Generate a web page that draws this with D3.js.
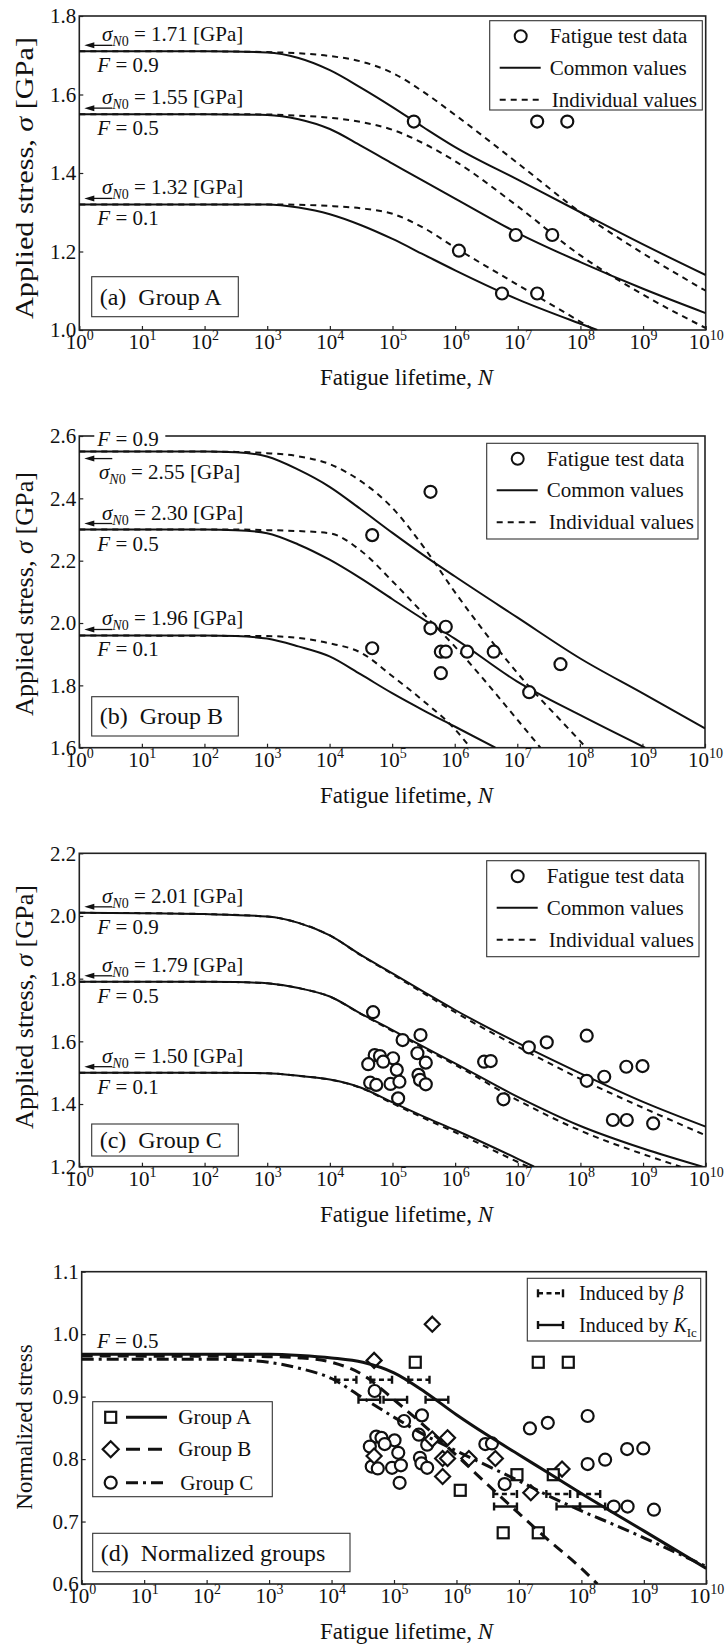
<!DOCTYPE html>
<html>
<head>
<meta charset="utf-8">
<script src="https://cdn.jsdelivr.net/npm/d3@7"></script>
<style>
  body { margin: 0; background: #fff; }
  svg, svg text { font-family: "Liberation Serif", "Times New Roman", Times, serif; }
</style>
</head>
<body>
<svg id="fig" width="728" height="1647" font-family="Liberation Serif, Times New Roman, serif"></svg>
<script>
// ---------------- data ----------------
// x-axis decades (exponents of ten)
const decadeExp = [0, 1, 2, 3, 4, 5, 6, 7, 8, 9, 10];

// y-axis tick values for each panel
const ticksA = [1.0, 1.2, 1.4, 1.6, 1.8];
const ticksB = [1.6, 1.8, 2.0, 2.2, 2.4, 2.6];
const ticksC = [1.2, 1.4, 1.6, 1.8, 2.0, 2.2];
const ticksD = [0.6, 0.7, 0.8, 0.9, 1.0, 1.1];

// failure probabilities and fatigue limits sigma_N0 [GPa]
const probF = [0.9, 0.5, 0.1];
const sigmaN0A = [1.71, 1.55, 1.32];
const sigmaN0B = [2.55, 2.30, 1.96];
const sigmaN0C = [2.01, 1.79, 1.50];

// fatigue test data: lifetime N and applied stress [GPa]
const groupA_N = [2.19e5, 2.04e7, 6.17e7, 1.15e6, 9.3e6, 3.55e7, 5.6e6, 2.04e7];
const groupA_S = [1.531, 1.531, 1.531, 1.202, 1.242, 1.242, 1.093, 1.093];

const groupB_N = [4.8e4, 4.1e5, 4.8e4, 4.1e5, 7.2e5, 6.0e5, 7.2e5, 1.58e6, 4.2e6, 6.0e5, 1.55e7, 4.9e7];
const groupB_S = [2.282, 2.421, 1.919, 1.983, 1.988, 1.908, 1.908, 1.908, 1.908, 1.839, 1.778, 1.868];

const groupC_N = [4.9e4, 1.45e5, 2.8e5, 2.5e5, 3.4e5, 5.2e4, 6.3e4, 1.02e5, 4.1e4, 7.1e4, 1.17e5, 2.6e5,
                  4.4e4, 5.5e4, 9.3e4, 1.29e5, 2.75e5, 3.4e5, 1.23e5, 2.9e6, 3.7e6, 5.9e6, 1.5e7, 2.9e7,
                  1.26e8, 1.26e8, 2.4e8, 5.4e8, 9.8e8, 3.3e8, 5.5e8, 1.45e9];
const groupC_S = [1.693, 1.604, 1.620, 1.562, 1.532, 1.556, 1.553, 1.546, 1.527, 1.535, 1.509, 1.493,
                  1.468, 1.461, 1.464, 1.471, 1.477, 1.463, 1.418, 1.535, 1.537, 1.415, 1.581, 1.597,
                  1.618, 1.474, 1.487, 1.519, 1.521, 1.349, 1.349, 1.338];

// normalized stresses of the same specimens
const normA_S = [0.955, 0.955, 0.955, 0.750, 0.775, 0.775, 0.682, 0.682];
const normB_S = [0.958, 1.016, 0.805, 0.832, 0.834, 0.801, 0.801, 0.801, 0.801, 0.772, 0.746, 0.784];
const normC_S = [0.909, 0.861, 0.870, 0.839, 0.823, 0.836, 0.834, 0.830, 0.820, 0.824, 0.810, 0.802,
                 0.788, 0.785, 0.786, 0.790, 0.793, 0.786, 0.762, 0.824, 0.825, 0.760, 0.849, 0.858,
                 0.869, 0.792, 0.799, 0.816, 0.817, 0.724, 0.724, 0.719];

// predicted S-N curves, [N, stress] for F = 0.9, 0.5, 0.1
const commonA = [
  [[1,1.71],[1e2,1.71],[1e3,1.707],[3.16e3,1.693],[1e4,1.662],[3.16e4,1.617],[1e5,1.568],[3.16e5,1.516],[1e6,1.466],[1e7,1.383],[1e8,1.30],[1e9,1.218],[1e10,1.14]],
  [[1,1.55],[1e2,1.55],[1e3,1.548],[3.16e3,1.537],[1e4,1.512],[3.16e4,1.469],[1e5,1.424],[3.16e5,1.379],[1e6,1.335],[1e7,1.247],[1e8,1.173],[1e9,1.105],[1e10,1.043]],
  [[1,1.32],[1e2,1.32],[1e3,1.32],[3.16e3,1.312],[1e4,1.295],[3.16e4,1.267],[1e5,1.232],[3.16e5,1.192],[1e6,1.152],[1e7,1.078],[1e8,1.016],[1.86e8,1.0]]
];
const individualA = [
  [[1,1.71],[1e2,1.71],[1e3,1.708],[3.16e3,1.705],[1e4,1.698],[3.16e4,1.684],[1e5,1.655],[3.16e5,1.606],[1e6,1.548],[1e7,1.425],[1e8,1.30],[1e9,1.195],[1e10,1.10]],
  [[1,1.55],[1e2,1.55],[1e3,1.549],[3.16e3,1.546],[1e4,1.541],[3.16e4,1.53],[1e5,1.51],[3.16e5,1.475],[1e6,1.43],[1e7,1.315],[1e8,1.19],[1e9,1.09],[1e10,1.005]],
  [[1,1.32],[1e2,1.32],[1e3,1.32],[3.16e3,1.319],[1e4,1.316],[3.16e4,1.31],[1e5,1.296],[3.16e5,1.26],[1e6,1.21],[1e7,1.115],[1e8,1.021],[1.66e8,1.0]]
];
const commonB = [
  [[1,2.55],[1e2,2.55],[3.16e2,2.548],[1e3,2.534],[3.16e3,2.492],[1e4,2.437],[3.16e4,2.365],[1e5,2.29],[3.16e5,2.218],[1e6,2.15],[1e7,2.018],[1e8,1.887],[1e9,1.775],[1e10,1.662]],
  [[1,2.30],[1e2,2.30],[3.16e2,2.298],[1e3,2.288],[3.16e3,2.252],[1e4,2.203],[3.16e4,2.143],[1e5,2.077],[3.16e5,2.012],[1e6,1.95],[1e7,1.812],[1e8,1.705],[1.1e9,1.6]],
  [[1,1.96],[1e2,1.96],[3.16e2,1.958],[1e3,1.95],[3.16e3,1.925],[1e4,1.893],[3.16e4,1.835],[1e5,1.775],[3.16e5,1.72],[1e6,1.668],[4.47e6,1.6]]
];
const individualB = [
  [[1,2.55],[1e2,2.55],[3.16e2,2.549],[1e3,2.545],[3.16e3,2.535],[1e4,2.51],[3.16e4,2.455],[1e5,2.37],[3.16e5,2.245],[1e6,2.10],[1e7,1.84],[1e8,1.622],[1.26e8,1.6]],
  [[1,2.30],[3.16e2,2.30],[1e3,2.298],[3.16e3,2.295],[1e4,2.288],[3.16e4,2.232],[1e5,2.135],[3.16e5,2.03],[1e6,1.925],[1e7,1.69],[2.34e7,1.6]],
  [[1,1.96],[1e3,1.958],[3.16e3,1.952],[1e4,1.935],[3.16e4,1.905],[1e5,1.83],[3.16e5,1.75],[1e6,1.66],[1.78e6,1.6]]
];
const commonC = [
  [[1,2.01],[1e1,2.009],[1e2,2.006],[1e3,1.998],[3.16e3,1.978],[1e4,1.938],[3.16e4,1.875],[1e5,1.817],[3.16e5,1.758],[1e6,1.70],[1e7,1.595],[1e8,1.498],[1e9,1.407],[1e10,1.328]],
  [[1,1.79],[1e2,1.79],[3.16e2,1.789],[1e3,1.785],[3.16e3,1.77],[1e4,1.743],[3.16e4,1.688],[1e5,1.636],[3.16e5,1.582],[1e6,1.53],[1e7,1.423],[1e8,1.33],[1e9,1.258],[8.9e9,1.2]],
  [[1,1.50],[1e2,1.50],[1e3,1.498],[3.16e3,1.49],[1e4,1.478],[3.16e4,1.452],[1e5,1.405],[3.16e5,1.36],[1e6,1.317],[1e7,1.225],[1.82e7,1.2]]
];
const individualC = [
  [[1,2.01],[1e1,2.009],[1e2,2.006],[1e3,1.998],[3.16e3,1.978],[1e4,1.938],[3.16e4,1.874],[1e5,1.814],[3.16e5,1.753],[1e6,1.693],[1e7,1.583],[1e8,1.48],[1e9,1.388],[1e10,1.30]],
  [[1,1.79],[1e2,1.79],[3.16e2,1.789],[1e3,1.785],[3.16e3,1.77],[1e4,1.743],[3.16e4,1.687],[1e5,1.633],[3.16e5,1.578],[1e6,1.525],[1e7,1.412],[1e8,1.315],[1e9,1.24],[3.98e9,1.2]],
  [[1,1.50],[1e2,1.50],[1e3,1.498],[3.16e3,1.49],[1e4,1.478],[3.16e4,1.451],[1e5,1.402],[3.16e5,1.355],[1e6,1.31],[1e7,1.215],[1.45e7,1.2]]
];

// normalized F = 0.5 curves
const normCurveA = [[1,0.968],[1e3,0.968],[3.16e3,0.966],[1e4,0.962],[3.16e4,0.955],[1e5,0.938],[3.16e5,0.907],[1e6,0.871],[3.16e6,0.838],[1e7,0.807],[3.16e7,0.776],[1e8,0.745],[1e9,0.685],[1e10,0.625]];
const normCurveB = [[1,0.965],[1e3,0.964],[3.16e3,0.962],[1e4,0.955],[3.16e4,0.935],[1e5,0.895],[3.16e5,0.852],[1e6,0.806],[3.16e6,0.759],[1e7,0.713],[3.16e7,0.668],[1e8,0.625],[1.8e8,0.6]];
const normCurveC = [[1,0.96],[1e2,0.96],[3.16e2,0.959],[1e3,0.955],[3.16e3,0.945],[1e4,0.929],[3.16e4,0.898],[1e5,0.867],[3.16e5,0.838],[1e6,0.813],[3.16e6,0.789],[1e7,0.765],[3.16e7,0.74],[1e8,0.717],[3.16e8,0.696],[1e9,0.674],[3.16e9,0.651],[1e10,0.628]];

// lifetime scatter bands: [N low, N high, normalized stress]
const betaBars = [[1.15e4,2.5e4,0.927],[4.2e4,9.3e4,0.927],[1.7e5,3.7e5,0.927],[3.9e6,9.3e6,0.744],[2.75e7,6.6e7,0.744],[8.7e7,2.0e8,0.744]];
const kicBars  = [[2.7e4,6.0e4,0.895],[6.8e4,1.62e5,0.895],[3.2e5,7.4e5,0.895],[4.0e6,9.3e6,0.724],[4.0e7,9.5e7,0.724],[9.5e7,2.4e8,0.724]];

// ---------------- drawing ----------------
const INK = "#111";
const SERIF = "Liberation Serif, Times New Roman, serif";
const svg = d3.select("#fig");
svg.append("rect").attr("width", 728).attr("height", 1647).attr("fill", "#fff");

function makePanel(cfg) {
  const g = svg.append("g").attr("font-family", SERIF);
  const x = d3.scaleLog().domain([1, 1e10]).range([cfg.left, cfg.right]);
  const y = d3.scaleLinear().domain([cfg.ticks[0], cfg.ticks[cfg.ticks.length - 1]]).range([cfg.bottom, cfg.top]);

  svg.append("clipPath").attr("id", "clip-" + cfg.id)
    .append("rect").attr("x", cfg.left).attr("y", cfg.top)
    .attr("width", cfg.right - cfg.left).attr("height", cfg.bottom - cfg.top);

  // x axis: decade ticks labelled 10^k
  const xa = g.append("g").attr("transform", `translate(0,${cfg.bottom})`)
    .call(d3.axisBottom(x).tickValues(decadeExp.map(e => Math.pow(10, e)))
      .tickSizeInner(-4).tickSizeOuter(0).tickFormat(""));
  xa.attr("font-family", SERIF);
  xa.select(".domain").remove();
  xa.selectAll(".tick line").attr("stroke", "#222").attr("stroke-width", 1.2);
  xa.selectAll(".tick text").remove();
  xa.selectAll(".tick").each(function(d) {
    const t = d3.select(this).append("text").attr("y", 19).attr("text-anchor", "middle")
      .attr("font-size", 21).attr("fill", INK).attr("font-family", SERIF);
    t.append("tspan").text("10");
    t.append("tspan").attr("font-size", 14).attr("dy", -9).text(Math.round(Math.log10(d)));
  });

  // y axis
  const ya = g.append("g").attr("transform", `translate(${cfg.left},0)`)
    .call(d3.axisLeft(y).tickValues(cfg.ticks).tickSizeInner(-4).tickSizeOuter(0)
      .tickPadding(3).tickFormat(d3.format(".1f")));
  ya.attr("font-family", SERIF);
  ya.select(".domain").remove();
  ya.selectAll(".tick line").attr("stroke", "#222").attr("stroke-width", 1.2);
  ya.selectAll(".tick text").attr("font-size", 21).attr("fill", INK).attr("font-family", SERIF);

  // frame
  g.append("rect").attr("x", cfg.left).attr("y", cfg.top)
    .attr("width", cfg.right - cfg.left).attr("height", cfg.bottom - cfg.top)
    .attr("fill", "none").attr("stroke", "#222").attr("stroke-width", 1.6);

  // axis titles
  const xt = g.append("text").attr("x", 320).attr("y", cfg.bottom + 55)
    .attr("font-size", 23).attr("fill", INK);
  xt.append("tspan").text("Fatigue lifetime, ");
  xt.append("tspan").attr("font-style", "italic").text("N");

  const yt = g.append("text")
    .attr("transform", `translate(${cfg.yTitleX},${cfg.yTitleMid}) rotate(-90)`)
    .attr("text-anchor", "middle").attr("font-size", cfg.yTitleSize).attr("fill", INK);
  if (cfg.yTitleLen) yt.attr("textLength", cfg.yTitleLen).attr("lengthAdjust", "spacingAndGlyphs");
  cfg.yTitle(yt);

  // panel caption box
  const cb = cfg.caption;
  g.append("rect").attr("x", cb.x0).attr("y", cb.y0).attr("width", cb.x1 - cb.x0)
    .attr("height", cb.y1 - cb.y0).attr("fill", "#fff").attr("stroke", "#333").attr("stroke-width", 1.1);
  g.append("text").attr("x", cb.x0 + 8).attr("y", (cb.y0 + cb.y1) / 2 + 8)
    .attr("font-size", 24).attr("fill", INK).attr("xml:space", "preserve").text(cb.text);

  const plot = g.append("g").attr("clip-path", `url(#clip-${cfg.id})`);
  return { g, x, y, plot };
}

const line = (x, y) => d3.line().x(d => x(d[0])).y(d => y(d[1])).curve(d3.curveMonotoneX);

function sigmaLabel(g, xPos, yPos, value) {
  const t = g.append("text").attr("x", xPos).attr("y", yPos).attr("font-size", 21).attr("fill", INK);
  t.append("tspan").attr("font-style", "italic").text("σ");
  t.append("tspan").attr("font-size", 14).attr("font-style", "italic").attr("dy", 5).text("N");
  t.append("tspan").attr("font-size", 14).text("0");
  t.append("tspan").attr("dy", -5).text(` = ${value.toFixed(2)} [GPa]`);
}
function fLabel(g, xPos, yPos, value) {
  const t = g.append("text").attr("x", xPos).attr("y", yPos).attr("font-size", 21).attr("fill", INK);
  t.append("tspan").attr("font-style", "italic").text("F");
  t.append("tspan").text(` = ${value.toFixed(1)}`);
  return t;
}
function leftArrow(g, tipX, endX, yPos) {
  g.append("line").attr("x1", tipX + 6).attr("x2", endX).attr("y1", yPos).attr("y2", yPos)
    .attr("stroke", INK).attr("stroke-width", 1.3);
  g.append("path").attr("d", `M${tipX},${yPos} L${tipX + 10},${yPos - 3} L${tipX + 10},${yPos + 3} Z`)
    .attr("fill", INK);
}

function stressTitle(t) {
  t.append("tspan").text("Applied stress, ");
  t.append("tspan").attr("font-style", "italic").text("σ");
  t.append("tspan").text(" [GPa]");
}

function legendABC(g, box) {
  g.append("rect").attr("x", box.x0).attr("y", box.y0).attr("width", box.x1 - box.x0)
    .attr("height", box.y1 - box.y0).attr("fill", "#fff").attr("stroke", "#333").attr("stroke-width", 1.1);
  const r = [box.y0 + 15.5, box.y0 + 47, box.y0 + 79];
  g.append("circle").attr("cx", box.x0 + 31).attr("cy", r[0]).attr("r", 6)
    .attr("fill", "#fff").attr("stroke", INK).attr("stroke-width", 2);
  g.append("line").attr("x1", box.x0 + 10).attr("x2", box.x0 + 51).attr("y1", r[1]).attr("y2", r[1])
    .attr("stroke", INK).attr("stroke-width", 2);
  g.append("line").attr("x1", box.x0 + 10).attr("x2", box.x0 + 51).attr("y1", r[2]).attr("y2", r[2])
    .attr("stroke", INK).attr("stroke-width", 2).attr("stroke-dasharray", "6,5");
  const labels = ["Fatigue test data", "Common values", "Individual values"];
  labels.forEach((s, i) => g.append("text").attr("x", box.x0 + 60 + (i === 2 ? 2 : 0)).attr("y", r[i] + 7)
    .attr("font-size", 21).attr("fill", INK).text(s));
}

function drawStressPanel(cfg, common, individual, sigmaN0, dataN, dataS) {
  const P = makePanel(cfg);
  const ln = line(P.x, P.y);
  common.forEach(c => P.plot.append("path").attr("d", ln(c)).attr("fill", "none")
    .attr("stroke", INK).attr("stroke-width", 2));
  individual.forEach(c => P.plot.append("path").attr("d", ln(c)).attr("fill", "none")
    .attr("stroke", INK).attr("stroke-width", 2).attr("stroke-dasharray", "6,5"));
  P.plot.selectAll("circle.pt").data(dataN.map((n, i) => [n, dataS[i]])).join("circle")
    .attr("class", "pt").attr("cx", d => P.x(d[0])).attr("cy", d => P.y(d[1])).attr("r", 6)
    .attr("fill", "#fff").attr("stroke", INK).attr("stroke-width", 2.2);

  // fatigue-limit annotations
  sigmaN0.forEach((s, i) => {
    const yl = P.y(s);
    const a = cfg.notes[i];
    leftArrow(P.g, cfg.left + 5, cfg.left + 33, yl + a.arrow);
    sigmaLabel(P.g, a.sx, yl + a.sig, s);
    if (a.fTop) {
      P.g.append("rect").attr("x", cfg.left + 15).attr("y", cfg.top - 10).attr("width", 71).attr("height", 20).attr("fill", "#fff");
      fLabel(P.g, cfg.left + 18, cfg.top + 10, probF[i]);
    } else {
      fLabel(P.g, cfg.left + 18, yl + a.f, probF[i]);
    }
  });
  legendABC(P.g, cfg.legend);
  return P;
}

const stdNotes = [{ arrow: -6, sig: -10, f: 21, sx: 102 }, { arrow: -6, sig: -10, f: 21, sx: 102 }, { arrow: -6, sig: -10, f: 21, sx: 102 }];

drawStressPanel({
  id: "a", left: 79.3, right: 705.7, top: 16, bottom: 330, ticks: ticksA,
  yTitleX: 33, yTitleMid: 178, yTitleSize: 26, yTitleLen: 282, yTitle: stressTitle,
  caption: { x0: 91.7, y0: 276.7, x1: 238.3, y1: 316.7, text: "(a)  Group A" },
  legend: { x0: 489.7, y0: 20.7, x1: 702.3, y1: 110 },
  notes: stdNotes
}, commonA, individualA, sigmaN0A, groupA_N, groupA_S);

drawStressPanel({
  id: "b", left: 79.3, right: 705, top: 436, bottom: 747.7, ticks: ticksB,
  yTitleX: 33, yTitleMid: 594, yTitleSize: 25, yTitleLen: 244, yTitle: stressTitle,
  caption: { x0: 91.7, y0: 696.7, x1: 238.3, y1: 736, text: "(b)  Group B" },
  legend: { x0: 486.7, y0: 443.3, x1: 698, y1: 539 },
  notes: [{ arrow: 7, sig: 27, sx: 99, fTop: true }, stdNotes[1], stdNotes[2]]
}, commonB, individualB, sigmaN0B, groupB_N, groupB_S);

drawStressPanel({
  id: "c", left: 79.3, right: 705.7, top: 853.3, bottom: 1166.7, ticks: ticksC,
  yTitleX: 33, yTitleMid: 1007, yTitleSize: 25, yTitleLen: 244, yTitle: stressTitle,
  caption: { x0: 91.7, y0: 1124, x1: 238.3, y1: 1156, text: "(c)  Group C" },
  legend: { x0: 486.7, y0: 860.7, x1: 699, y1: 956.7 },
  notes: stdNotes
}, commonC, individualC, sigmaN0C, groupC_N, groupC_S);

// ---- panel (d): normalized groups ----
(function () {
  const cfg = {
    id: "d", left: 81.7, right: 706.3, top: 1271.7, bottom: 1584, ticks: ticksD,
    yTitleX: 32, yTitleMid: 1427, yTitleSize: 23, yTitle: t => t.text("Normalized stress"),
    caption: { x0: 92.7, y0: 1533.3, x1: 350, y1: 1571.7, text: "(d)  Normalized groups" }
  };
  const P = makePanel(cfg);
  const ln = line(P.x, P.y);
  const sq = 11, dm = 7.5;

  const markerStyle = s => s.attr("fill", "#fff").attr("stroke", INK).attr("stroke-width", 2.2);
  markerStyle(P.plot.selectAll("circle.c").data(groupC_N.map((n, i) => [n, normC_S[i]])).join("circle")
    .attr("class", "c").attr("cx", d => P.x(d[0])).attr("cy", d => P.y(d[1])).attr("r", 6));
  markerStyle(P.plot.selectAll("path.b").data(groupB_N.map((n, i) => [n, normB_S[i]])).join("path")
    .attr("class", "b").attr("d", d => {
      const cx = P.x(d[0]), cy = P.y(d[1]);
      return `M${cx},${cy - dm} L${cx + dm},${cy} L${cx},${cy + dm} L${cx - dm},${cy} Z`;
    }));
  markerStyle(P.plot.selectAll("rect.a").data(groupA_N.map((n, i) => [n, normA_S[i]])).join("rect")
    .attr("class", "a").attr("x", d => P.x(d[0]) - sq / 2).attr("y", d => P.y(d[1]) - sq / 2)
    .attr("width", sq).attr("height", sq));

  P.plot.append("path").attr("d", ln(normCurveA)).attr("fill", "none").attr("stroke", INK).attr("stroke-width", 3);
  P.plot.append("path").attr("d", ln(normCurveB)).attr("fill", "none").attr("stroke", INK).attr("stroke-width", 3)
    .attr("stroke-dasharray", "11,7");
  P.plot.append("path").attr("d", ln(normCurveC)).attr("fill", "none").attr("stroke", INK).attr("stroke-width", 3)
    .attr("stroke-dasharray", "12,5,3,5");

  function bar(g, x0, x1, yy, dashed) {
    g.append("line").attr("x1", x0).attr("x2", x1).attr("y1", yy).attr("y2", yy)
      .attr("stroke", INK).attr("stroke-width", 2.4).attr("stroke-dasharray", dashed ? "5,3.5" : null);
    [x0, x1].forEach(xx => g.append("line").attr("x1", xx).attr("x2", xx).attr("y1", yy - 4).attr("y2", yy + 4)
      .attr("stroke", INK).attr("stroke-width", 2.4));
  }
  betaBars.forEach(b => bar(P.plot, P.x(b[0]), P.x(b[1]), P.y(b[2]), true));
  kicBars.forEach(b => bar(P.plot, P.x(b[0]), P.x(b[1]), P.y(b[2]), false));

  fLabel(P.g, 97, P.y(0.968) - 6, 0.5);

  // group legend
  const L = P.g.append("g");
  L.append("rect").attr("x", 92.7).attr("y", 1401.7).attr("width", 179.6).attr("height", 95)
    .attr("fill", "#fff").attr("stroke", "#333").attr("stroke-width", 1.1);
  const rows = [1417.3, 1449.3, 1482.7];
  markerStyle(L.append("rect").attr("x", 110.7 - sq / 2).attr("y", rows[0] - sq / 2).attr("width", sq).attr("height", sq));
  markerStyle(L.append("path").attr("d", `M110.7,${rows[1] - dm - 0.5} L${110.7 + dm + 0.5},${rows[1]} L110.7,${rows[1] + dm + 0.5} L${110.7 - dm - 0.5},${rows[1]} Z`));
  markerStyle(L.append("circle").attr("cx", 110.7).attr("cy", rows[2]).attr("r", 6));
  const dashes = [null, "14,8", "12,5,3,5"];
  rows.forEach((ry, i) => L.append("line").attr("x1", 126).attr("x2", 167).attr("y1", ry).attr("y2", ry)
    .attr("stroke", INK).attr("stroke-width", 3).attr("stroke-dasharray", dashes[i]));
  ["Group A", "Group B", "Group C"].forEach((s, i) => L.append("text").attr("x", 178.3 + (i === 2 ? 2 : 0))
    .attr("y", rows[i] + 7).attr("font-size", 21).attr("fill", INK).text(s));

  // scatter-source legend
  const R = P.g.append("g");
  R.append("rect").attr("x", 527.3).attr("y", 1278.3).attr("width", 173.4).attr("height", 62.7)
    .attr("fill", "#fff").attr("stroke", "#333").attr("stroke-width", 1.1);
  bar(R, 538, 563, 1293.3, true);
  bar(R, 538, 563, 1325, false);
  const t1 = R.append("text").attr("x", 579).attr("y", 1300).attr("font-size", 20).attr("fill", INK);
  t1.append("tspan").text("Induced by ");
  t1.append("tspan").attr("font-style", "italic").text("β");
  const t2 = R.append("text").attr("x", 579).attr("y", 1331.5).attr("font-size", 20).attr("fill", INK);
  t2.append("tspan").text("Induced by ");
  t2.append("tspan").attr("font-style", "italic").text("K");
  t2.append("tspan").attr("font-size", 13).attr("dy", 5).text("Ic");
})();
</script>
</body>
</html>
